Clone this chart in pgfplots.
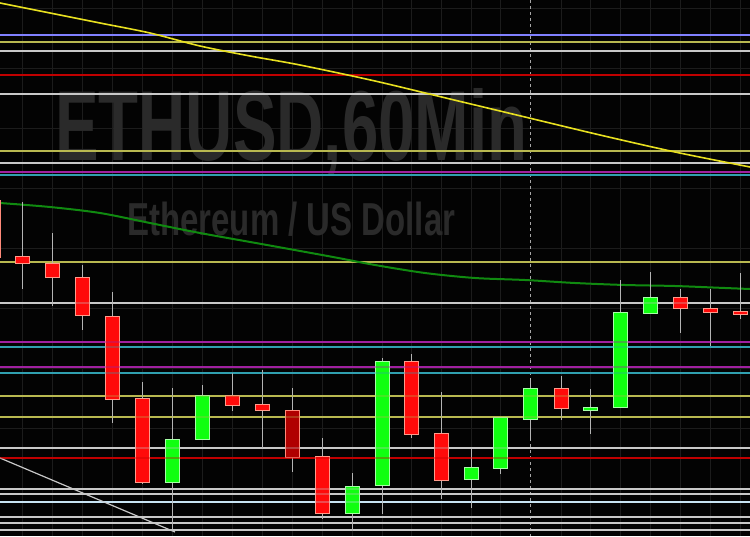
\documentclass[border=0pt]{standalone}
\usepackage{pgfplots}
\pgfplotsset{compat=1.18}
\usepgfplotslibrary{statistics}
\usepackage{fontspec}
\setmainfont{Liberation Sans}
\definecolor{bgc}{HTML}{030303}
\definecolor{gridc}{HTML}{1c1c1c}
\definecolor{wmark}{HTML}{2a2a2a}
\definecolor{wick}{HTML}{b4b4b4}
\definecolor{cred}{HTML}{FF0A0A}
\definecolor{credo}{HTML}{FF9A8A}
\definecolor{cgreen}{HTML}{10FF10}
\definecolor{cgreeno}{HTML}{A8FFA8}
\definecolor{cdark}{HTML}{B00000}
\definecolor{cdarko}{HTML}{FF8A7A}
\definecolor{lav}{HTML}{8080FF}
\definecolor{ylw}{HTML}{B8B850}
\definecolor{lgray}{HTML}{C8C8C8}
\definecolor{hred}{HTML}{C00000}
\definecolor{purp}{HTML}{A020A0}
\definecolor{cyn}{HTML}{30A0B0}
\definecolor{lblue}{HTML}{C8E4F4}
\definecolor{maY}{HTML}{E8E020}
\definecolor{maG}{HTML}{108A10}
\newcommand{\hl}[3]{\addplot[draw=#2, line width=#3] coordinates {(0,#1) (750,#1)};}
\newcommand{\candle}[7]{%
\addplot[draw=#7, fill=#6, line width=0.7pt,
 boxplot prepared={draw position=#1, lower whisker=#2, lower quartile=#3, median=#3,
 upper quartile=#4, upper whisker=#5, box extend=14, whisker extend=0,
 draw direction=y,
 every whisker/.style={draw=wick, line width=0.8pt},
 every median/.style={draw=#7}}] coordinates {};}
\begin{document}
\begin{tikzpicture}
\begin{axis}[
 width=750pt, height=536pt, scale only axis,
 xmin=0, xmax=750, ymin=0, ymax=536, y dir=reverse,
 axis line style={draw=none}, ticks=none,
 axis background/.style={fill=bgc},
 clip=true]
% faint grid
\addplot[ycomb, draw=gridc, line width=0.8pt, mark=none] coordinates {(22,536)(52,536)(82,536)(112,536)(142,536)(172,536)(202,536)(232,536)(262,536)(292,536)(322,536)(352,536)(382,536)(411,536)(441,536)(471,536)(500,536)(561,536)(590,536)(620,536)(650,536)(680,536)(710,536)(740,536)};
\addplot[xcomb, draw=gridc, line width=0.8pt, mark=none] coordinates {(750,8)(750,68)(750,128)(750,188)(750,248)(750,308)(750,368)(750,428)(750,488)};
\addplot[draw=gray!70, dashed, line width=0.6pt] coordinates {(530,0) (530,536)};
% watermark text
\node[anchor=base west, inner sep=0pt, text=wmark] at (axis cs:55,160) {\resizebox{472pt}{72pt}{\bfseries ETHUSD,60Min}};
\node[anchor=base west, inner sep=0pt, text=wmark] at (axis cs:127,235) {\resizebox{328pt}{33.5pt}{\bfseries Ethereum / US Dollar}};
% horizontal levels
\hl{35}{lav}{2.2pt}
\hl{42}{ylw}{1.2pt}
\hl{51}{lgray}{1.3pt}
\hl{75}{hred}{1.3pt}
\hl{94}{lgray}{1.3pt}
\hl{151}{ylw}{1.3pt}
\hl{163}{lgray}{1.3pt}
\hl{172}{purp}{1.5pt}
\hl{175}{cyn}{1.3pt}
\hl{262}{ylw}{1.3pt}
\hl{303}{lgray}{1.3pt}
\hl{342}{purp}{1.5pt}
\hl{347}{cyn}{1.3pt}
\hl{367}{purp}{1.5pt}
\hl{373}{cyn}{1.3pt}
\hl{396}{ylw}{1.3pt}
\hl{417}{ylw}{1.3pt}
\hl{448}{lgray}{1.3pt}
\hl{458}{hred}{1.3pt}
\hl{489}{lgray}{1.3pt}
\hl{494}{lgray}{1.3pt}
\hl{502}{lblue}{2pt}
\hl{517}{lgray}{1.3pt}
\hl{523}{lgray}{1.3pt}
\hl{530}{lgray}{1.3pt}
% diagonal
\addplot[draw=lgray, line width=1.2pt] coordinates {(0,458) (175,532)};
% moving averages
\addplot[draw=maY, line width=1.6pt, smooth] coordinates {(0,3)(50,13)(100,23)(150,33)(200,46)(250,56)(300,65)(375,81)(450,99)(525,117)(600,135)(675,152)(750,167)};
\addplot[draw=maG, line width=2pt, smooth] coordinates {(0,203)(50,207)(100,213)(150,223)(200,233)(267,245)(333,257)(375,265)(425,273)(475,278)(525,280)(575,283)(625,285)(675,286)(725,288)(750,289)};
% candles: x, high, body top, body bottom, low
\candle{-7}{195}{200}{257}{262}{cdark}{cdarko}
\candle{22}{202}{256}{263}{289}{cred}{credo}
\candle{52}{233}{263}{277}{306}{cred}{credo}
\candle{82}{265}{277}{315}{330}{cred}{credo}
\candle{112}{292}{316}{399}{423}{cred}{credo}
\candle{142}{382}{398}{482}{484}{cred}{credo}
\candle{172}{388}{439}{482}{529}{cgreen}{cgreeno}
\candle{202}{385}{395}{439}{439}{cgreen}{cgreeno}
\candle{232}{373}{395}{405}{411}{cred}{credo}
\candle{262}{370}{404}{410}{448}{cred}{credo}
\candle{292}{388}{410}{457}{472}{cdark}{cdarko}
\candle{322}{438}{456}{513}{519}{cred}{credo}
\candle{352}{473}{486}{513}{531}{cgreen}{cgreeno}
\candle{382}{358}{361}{485}{514}{cgreen}{cgreeno}
\candle{411}{354}{361}{434}{438}{cred}{credo}
\candle{441}{392}{433}{480}{499}{cred}{credo}
\candle{471}{449}{467}{479}{508}{cgreen}{cgreeno}
\candle{500}{417}{417}{468}{474}{cgreen}{cgreeno}
\candle{530}{378}{388}{419}{440}{cgreen}{cgreeno}
\candle{561}{376}{388}{408}{420}{cred}{credo}
\candle{590}{389}{407}{410}{434}{cgreen}{cgreeno}
\candle{620}{280}{312}{407}{407}{cgreen}{cgreeno}
\candle{650}{272}{297}{313}{313}{cgreen}{cgreeno}
\candle{680}{289}{297}{308}{333}{cred}{credo}
\candle{710}{289}{308}{312}{346}{cred}{credo}
\candle{740}{273}{311}{314}{319}{cred}{credo}
% levels showing faintly through candles
\hl{303}{lgray, opacity=0.3}{1.3pt}
\hl{342}{purp, opacity=0.35}{1.5pt}
\hl{347}{cyn, opacity=0.3}{1.3pt}
\hl{367}{purp, opacity=0.35}{1.5pt}
\hl{373}{cyn, opacity=0.3}{1.3pt}
\hl{396}{ylw, opacity=0.3}{1.3pt}
\hl{417}{ylw, opacity=0.3}{1.3pt}
\hl{448}{lgray, opacity=0.3}{1.3pt}
\hl{458}{hred, opacity=0.35}{1.3pt}
\hl{489}{lgray, opacity=0.3}{1.3pt}
\hl{494}{lgray, opacity=0.3}{1.3pt}
\hl{502}{lblue, opacity=0.3}{2pt}
\end{axis}
\end{tikzpicture}
\end{document}
